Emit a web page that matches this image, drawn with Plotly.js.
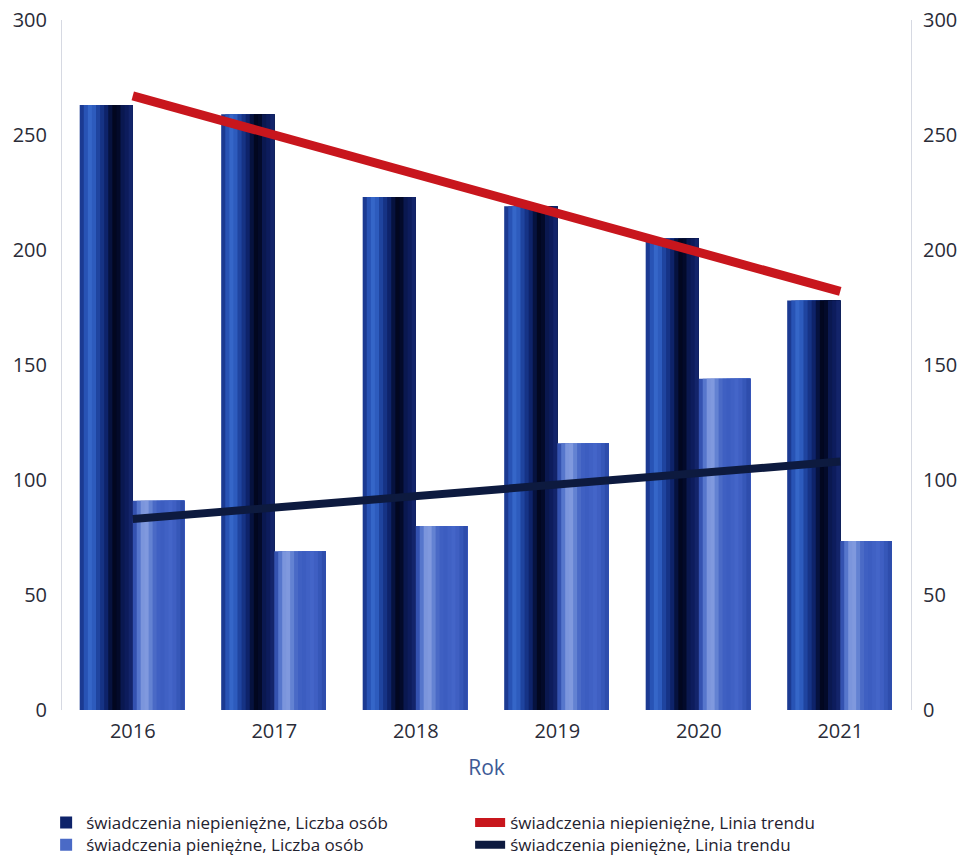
<!DOCTYPE html>
<html>
<head>
<meta charset="utf-8">
<script src="https://cdn.plot.ly/plotly-3.0.1.min.js"></script>
<style>html,body{margin:0;padding:0;background:#fff;}#chart{width:961px;height:856px;}</style>
</head>
<body>
<div id="chart"></div>
<script>
// ---- data ----
const years = ['2016', '2017', '2018', '2019', '2020', '2021'];
const niepieniezne = [263, 259, 223, 219, 205, 178];   // świadczenia niepieniężne, Liczba osób
const pieniezne = [91, 69, 80, 116, 144, 73.5];       // świadczenia pieniężne, Liczba osób
const trendYears = ['2016', '2021'];
const trendNiepieniezne = [267, 182];                   // read endpoints of red trend line
const trendPieniezne = [83, 108];                       // read endpoints of navy trend line

const nameDark = 'świadczenia niepieniężne, Liczba osób';
const nameLight = 'świadczenia pieniężne, Liczba osób';
const nameRedTrend = 'świadczenia niepieniężne, Linia trendu';
const nameNavyTrend = 'świadczenia pieniężne, Linia trendu';

// ---- style: cylinder-like shading stripes ----
const darkStripes = ['#1b3a92','#2853b5','#3566c8','#2d5bbd','#1f449f','#163385','#0e236a','#06123f','#020720','#030a2a','#0a1850','#0d1c5c','#13246a'];
const lightStripes = ['#3452b0','#5676cc','#7b95dc','#8099de','#6382d2','#4a6ac6','#3f60c2','#3c5dc0','#4061c4','#4465c8','#3f5fc2','#3657b8','#2e4dac'];

function stripeTraces(values, colors, start, width, name, legendIdx, legendRef) {
  const n = colors.length;
  const step = width / n;
  return colors.map((c, i) => ({
    type: 'bar',
    x: years,
    y: values,
    offset: start + i * step,
    width: width - i * step,
    marker: {color: c, line: {width: 0}},
    name: name,
    showlegend: i === legendIdx,
    legend: legendRef,
    hoverinfo: i === legendIdx ? 'x+y+name' : 'skip',
    yaxis: 'y'
  }));
}

const traces = [];
traces.push(...stripeTraces(niepieniezne, darkStripes, -0.375, 0.375, nameDark, 6, 'legend'));
traces.push(...stripeTraces(pieniezne, lightStripes, 0.0, 0.365, nameLight, 5, 'legend2'));

traces.push({
  type: 'scatter', mode: 'lines', x: trendYears, y: trendNiepieniezne,
  line: {color: '#c8161d', width: 9}, name: nameRedTrend, legend: 'legend', yaxis: 'y2'
});
traces.push({
  type: 'scatter', mode: 'lines', x: trendYears, y: trendPieniezne,
  line: {color: '#0d1a3f', width: 8}, name: nameNavyTrend, legend: 'legend2', yaxis: 'y2'
});

const tickFont = {family: 'Open Sans, sans-serif', size: 20, color: '#2a2c38'};
const legendFont = {family: 'Open Sans, sans-serif', size: 17, color: '#1f2230'};

const layout = {
  width: 961, height: 856,
  margin: {l: 62, r: 50, t: 20, b: 146},
  paper_bgcolor: '#ffffff', plot_bgcolor: '#ffffff',
  barmode: 'overlay',
  showlegend: true,
  xaxis: {
    type: 'category', range: [-0.5, 5.5],
    showgrid: false, zeroline: false, showline: false,
    ticks: '', ticklabelstandoff: 7,
    tickfont: tickFont,
    title: {text: 'Rok', font: {family: 'Open Sans, sans-serif', size: 21, color: '#3d5a96'}, standoff: 17}
  },
  yaxis: {
    range: [0, 300], dtick: 50, showgrid: false, zeroline: false,
    showline: true, linecolor: '#d6d9e2', linewidth: 1,
    ticks: '', ticklabelstandoff: 10, tickfont: tickFont
  },
  yaxis2: {
    range: [0, 300], dtick: 50, overlaying: 'y', side: 'right',
    showgrid: false, zeroline: false,
    showline: true, linecolor: '#d6d9e2', linewidth: 1,
    ticks: '', ticklabelstandoff: 7, tickfont: tickFont
  },
  legend: {
    orientation: 'h', xref: 'container', x: 0.048, xanchor: 'left',
    yref: 'container', y: 0.0385, yanchor: 'middle',
    font: legendFont, itemwidth: 30, entrywidth: 379, entrywidthmode: 'pixels',
    bgcolor: 'rgba(0,0,0,0)', itemclick: false, traceorder: 'normal'
  },
  legend2: {
    orientation: 'h', xref: 'container', x: 0.048, xanchor: 'left',
    yref: 'container', y: 0.0125, yanchor: 'middle',
    font: legendFont, itemwidth: 30, entrywidth: 379, entrywidthmode: 'pixels',
    bgcolor: 'rgba(0,0,0,0)', itemclick: false, traceorder: 'normal'
  }
};

Plotly.newPlot('chart', traces, layout, {displayModeBar: false, responsive: false});
</script>
</body>
</html>
